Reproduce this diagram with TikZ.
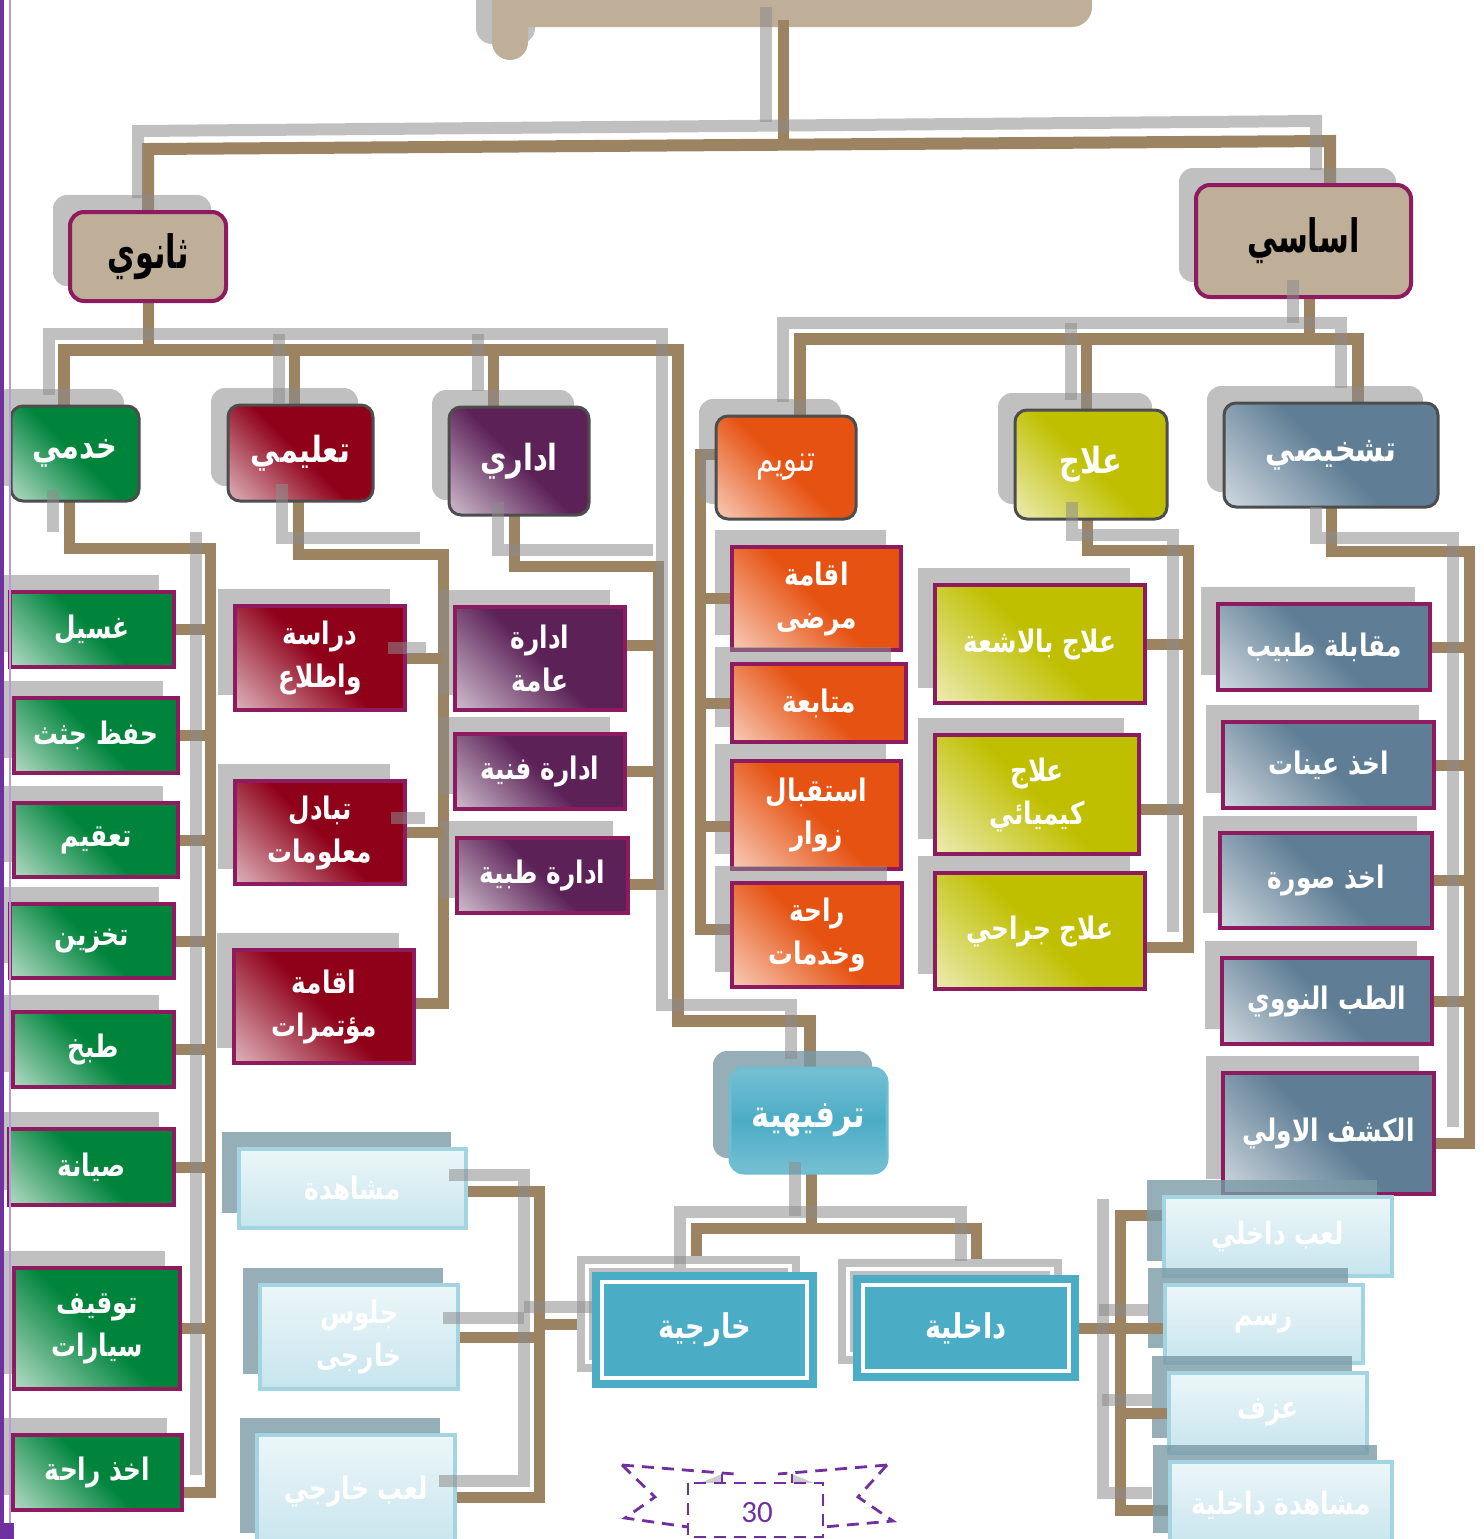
\documentclass[tikz,border=0pt]{standalone}
\usepackage{fontspec}
\TeXXeTstate=1
\newfontfamily\arabicfont[Script=Arabic, FakeStretch=0.8]{DejaVu Sans}
\newfontfamily\arabictitle[Script=Arabic, FakeStretch=0.66]{DejaVu Sans}
\newfontfamily\numfont{Carlito}

% palette
\definecolor{tanC}{HTML}{BFAE98}
\definecolor{magC}{HTML}{8E1A5F}
\definecolor{brownC}{HTML}{9C8362}
\definecolor{edgeC}{HTML}{4D4D4D}
\definecolor{gMn}{HTML}{00843C}
\definecolor{rMn}{HTML}{8F0019}
\definecolor{pMn}{HTML}{5C2258}
\definecolor{oMn}{HTML}{E65212}
\definecolor{yMn}{HTML}{BFBF00}
\definecolor{sMn}{HTML}{5F7E95}
\definecolor{tealC}{HTML}{4BACC6}
\definecolor{tealLt}{HTML}{A2D3E1}
\definecolor{paleC}{HTML}{B4DCE7}
\definecolor{paleEdge}{HTML}{A3D4E2}
\definecolor{pshC}{HTML}{7A9AA6}
\definecolor{pgC}{HTML}{7030A0}
\definecolor{lavC}{HTML}{B89AD8}

% diagonal gradients: pale lower-left corner, full colour towards upper-right
\pgfdeclarehorizontalshading{shG}{100bp}{color(0bp)=(gMn!6!white); color(20bp)=(gMn!40!white); color(50bp)=(gMn); color(100bp)=(gMn)}
\pgfdeclarehorizontalshading{shR}{100bp}{color(0bp)=(rMn!6!white); color(20bp)=(rMn!40!white); color(50bp)=(rMn); color(100bp)=(rMn)}
\pgfdeclarehorizontalshading{shP}{100bp}{color(0bp)=(pMn!6!white); color(20bp)=(pMn!40!white); color(50bp)=(pMn); color(100bp)=(pMn)}
\pgfdeclarehorizontalshading{shO}{100bp}{color(0bp)=(oMn!6!white); color(20bp)=(oMn!40!white); color(50bp)=(oMn); color(100bp)=(oMn)}
\pgfdeclarehorizontalshading{shY}{100bp}{color(0bp)=(yMn!6!white); color(20bp)=(yMn!40!white); color(50bp)=(yMn); color(100bp)=(yMn)}
\pgfdeclarehorizontalshading{shS}{100bp}{color(0bp)=(sMn!6!white); color(20bp)=(sMn!40!white); color(50bp)=(sMn); color(100bp)=(sMn)}
\pgfdeclareverticalshading{shT}{100bp}{color(0bp)=(tealLt); color(50bp)=(tealC); color(100bp)=(tealLt)}
\pgfdeclareverticalshading{shW}{100bp}{color(0bp)=(paleC); color(100bp)=(white)}

\newcommand\AR[1]{\beginR#1\endR}
% box with its offset shadow: [shadow style]{node style}{name}{x1}{y1}{x2}{y2}{text}
\newcommand\mkbox[8][shd]{%
  \fill[#1] ({#4-17},{#5-17}) rectangle ({#6-15},{#7-15});
  \node[#2, minimum width={(#6-#4)*0.5pt}, minimum height={(#7-#5)*0.5pt}] (#3) at ({(#4+#6)/2},{(#5+#7)/2}) {#8};}

\tikzset{
  shd/.style={fill=black!45, fill opacity=0.55},
  shdr/.style={shd, rounded corners=7pt},
  shdp/.style={fill=pshC, fill opacity=0.8},
  shdpr/.style={shdp, rounded corners=7pt},
  brw/.style={draw=brownC, line width=5.5pt},
  gry/.style={draw=black!45, draw opacity=0.55, line width=6pt},
  lvlone/.style={draw=magC, line width=2pt, fill=tanC, rounded corners=7pt, inner sep=0pt,
    text=black, font=\arabictitle\bfseries\fontsize{23}{26}\selectfont},
  lvltwo/.style={draw=edgeC, line width=1.5pt, rounded corners=6pt, shade, shading angle=45,
    inner sep=0pt, text=white, font=\arabicfont\bfseries\fontsize{18}{20}\selectfont},
  kid/.style={draw=magC, line width=2pt, shade, shading angle=45, inner sep=0pt, align=center,
    text=white, font=\arabicfont\bfseries\fontsize{15.5}{21.5}\selectfont},
  tealbox/.style={fill=tealC, draw=tealC, line width=1pt, inner sep=0pt, text=white,
    font=\arabicfont\bfseries\fontsize{17}{20}\selectfont},
  palebox/.style={draw=paleEdge, line width=1.8pt, shade, shading=shW, inner sep=0pt, align=center,
    text=white, font=\arabicfont\bfseries\fontsize{15.5}{21.5}\selectfont},
  pgdash/.style={draw=pgC, line width=1.4pt, dash pattern=on 6pt off 4pt},
}

\begin{document}
\begin{tikzpicture}[x=0.5pt,y=-0.5pt]
\useasboundingbox (0,0) rectangle (1484,1539);
\clip (0,0) rectangle (1484,1539);

% ---- title banner (cut by the page top)
\fill[shd, rounded corners=8pt] (476,-40) rectangle (535,44);
\fill[tanC, rounded corners=10pt] (505,-40) rectangle (1092,27);
\fill[tanC, rounded corners=9pt] (492,-40) rectangle (528,60);
\coordinate (root) at (783,27);

% ---- brown connectors
\draw[brw] (783,20) -- (783,146);
\draw[brw, line width=6pt] (148,212) -- (148,149) -- (1330,141) -- (1330,186);
% secondary branch bus
\draw[brw] (148,301) -- (148,350);
\draw[brw, line width=6pt] (64,406) -- (64,350) -- (678,350) -- (678,1021) -- (810,1021) -- (810,1068);
\draw[brw] (294,350) -- (294,405);
\draw[brw] (493,350) -- (493,407);
% basic branch bus
\draw[brw] (1309,297) -- (1309,339);
\draw[brw, line width=6pt] (800,416) -- (800,339) -- (1358,339) -- (1358,403);
\draw[brw] (1086,339) -- (1086,410);
% column buses
\coordinate (kb) at (210,548);
\draw[brw] (69,501) -- (69,548) -- (210,548) -- (210,1492) -- (182,1492);
\coordinate (tb) at (443,554);
\draw[brw] (298,501) -- (298,554) -- (443,554) -- (443,1003) -- (414,1003);
\coordinate (ib) at (658,566);
\draw[brw] (514,515) -- (514,566) -- (658,566) -- (658,884) -- (628,884);
\coordinate (nb) at (700,454);
\draw[brw] (717,454) -- (700,454) -- (700,929) -- (732,929);
\coordinate (lb) at (1188,550);
\draw[brw] (1087,519) -- (1087,550) -- (1188,550) -- (1188,947) -- (1140,947);
\coordinate (sb) at (1469,551);
\draw[brw] (1331,507) -- (1331,551) -- (1469,551) -- (1469,1143) -- (1434,1143);
\draw[brw] (811,1173) -- (811,1228);
\draw[brw] (696,1274) -- (696,1228) -- (976,1228) -- (976,1277);
\coordinate (xb) at (539,1191);
\draw[brw] (466,1191) -- (539,1191) -- (539,1497) -- (455,1497);
\draw[brw] (539,1324) -- (594,1324);
\coordinate (db) at (1120,1215);
\draw[brw] (1164,1215) -- (1120,1215) -- (1120,1510) -- (1170,1510);

% ---- level one
\mkbox[shdr]{lvlone}{thanawi}{70}{212}{226}{301}{\AR{ثانوي}}
\mkbox[shdr]{lvlone}{asasi}{1196}{185}{1411}{297}{\AR{اساسي}}

% ---- level two
\mkbox[shdr]{lvltwo, shading=shG}{khidmi}{11}{406}{139}{501}{\AR{خدمي}}
\mkbox[shdr]{lvltwo, shading=shR}{taalimi}{228}{405}{373}{501}{\AR{تعليمي}}
\mkbox[shdr]{lvltwo, shading=shP}{idari}{449}{407}{589}{515}{\AR{اداري}}
\mkbox[shdr]{lvltwo, shading=shO, font=\arabicfont\fontsize{18}{20}\selectfont}{tanwim}{716}{416}{856}{519}{\AR{تنويم}}
\mkbox[shdr]{lvltwo, shading=shY}{ilaj}{1015}{410}{1167}{519}{\AR{علاج}}
\mkbox[shdr]{lvltwo, shading=shS}{tashkhisi}{1224}{403}{1438}{507}{\AR{تشخيصي}}

% ---- service column
\mkbox{kid, shading=shG}{ghasil}{10}{592}{174}{667}{\AR{غسيل}}
\mkbox{kid, shading=shG}{hifz}{14}{698}{178}{773}{\AR{حفظ جثث}}
\mkbox{kid, shading=shG}{taqim}{14}{803}{178}{877}{\AR{تعقيم}}
\mkbox{kid, shading=shG}{takhzin}{10}{904}{174}{978}{\AR{تخزين}}
\mkbox{kid, shading=shG}{tabkh}{13}{1012}{174}{1087}{\AR{طبخ}}
\mkbox{kid, shading=shG}{siyana}{9}{1129}{174}{1205}{\AR{صيانة}}
\mkbox{kid, shading=shG}{tawqif}{14}{1268}{180}{1389}{\AR{توقيف}\\\AR{سيارات}}
\mkbox{kid, shading=shG}{raha}{13}{1435}{182}{1510}{\AR{اخذ راحة}}

% ---- teaching column
\mkbox{kid, shading=shR}{dirasa}{235}{606}{405}{710}{\AR{دراسة}\\\AR{واطلاع}}
\mkbox{kid, shading=shR}{tabadul}{235}{781}{405}{884}{\AR{تبادل}\\\AR{معلومات}}
\mkbox{kid, shading=shR}{muatamarat}{234}{950}{414}{1063}{\AR{اقامة}\\\AR{مؤتمرات}}

% ---- administration column
\mkbox{kid, shading=shP}{idAmma}{455}{607}{625}{710}{\AR{ادارة}\\\AR{عامة}}
\mkbox{kid, shading=shP}{idFanniya}{455}{734}{625}{809}{\AR{ادارة فنية}}
\mkbox{kid, shading=shP}{idTibbiya}{457}{838}{628}{913}{\AR{ادارة طبية}}

% ---- inpatient column
\mkbox{kid, shading=shO}{iqamaMarda}{732}{547}{901}{650}{\AR{اقامة}\\\AR{مرضى}}
\mkbox{kid, shading=shO}{mutabaa}{732}{664}{906}{742}{\AR{متابعة}}
\mkbox{kid, shading=shO}{istiqbal}{732}{761}{901}{869}{\AR{استقبال}\\\AR{زوار}}
\mkbox{kid, shading=shO}{rahaKh}{732}{883}{902}{987}{\AR{راحة}\\\AR{وخدمات}}

% ---- treatment column
\mkbox{kid, shading=shY}{ashiaa}{935}{585}{1145}{703}{\AR{علاج بالاشعة}}
\mkbox{kid, shading=shY}{kimiyai}{935}{735}{1139}{854}{\AR{علاج}\\\AR{كيميائي}}
\mkbox{kid, shading=shY}{jirahi}{935}{873}{1145}{989}{\AR{علاج جراحي}}

% ---- diagnosis column
\mkbox{kid, shading=shS}{muqabala}{1218}{604}{1430}{690}{\AR{مقابلة طبيب}}
\mkbox{kid, shading=shS}{ayyinat}{1223}{722}{1434}{808}{\AR{اخذ عينات}}
\mkbox{kid, shading=shS}{sura}{1220}{833}{1432}{928}{\AR{اخذ صورة}}
\mkbox{kid, shading=shS}{nawawi}{1222}{958}{1432}{1044}{\AR{الطب النووي}}
\mkbox{kid, shading=shS}{kashf}{1223}{1073}{1434}{1194}{\AR{الكشف الاولي}}

% ---- recreation
\mkbox[shdpr]{draw=tealC!80!white, line width=1.5pt, rounded corners=7pt, shade, shading=shT, inner sep=0pt,
  text=white, font=\arabicfont\bfseries\fontsize{19}{21}\selectfont}{tarfihiya}{730}{1068}{887}{1173}{\AR{ترفيهية}}

\fill[black!25] (577,1256) rectangle (800,1372);
\draw[white, line width=2pt] (587,1266) rectangle (790,1362);
\node[tealbox, minimum width=111.5pt, minimum height=57pt] (kharijiya) at (704.5,1330) {\AR{خارجية}};
\draw[white, line width=2pt] ([shift={(5pt,-5pt)}]kharijiya.north west) rectangle ([shift={(-5pt,5pt)}]kharijiya.south east);

\fill[black!25] (838,1259) rectangle (1062,1364);
\draw[white, line width=2pt] (848,1269) rectangle (1052,1354);
\node[tealbox, minimum width=112pt, minimum height=52pt] (dakhiliya) at (966,1328) {\AR{داخلية}};
\draw[white, line width=2pt] ([shift={(5pt,-5pt)}]dakhiliya.north west) rectangle ([shift={(-5pt,5pt)}]dakhiliya.south east);

\mkbox[shdp]{palebox}{mushahada}{239}{1149}{466}{1228}{\AR{مشاهدة}}
\mkbox[shdp]{palebox}{julus}{260}{1285}{458}{1389}{\AR{جلوس}\\\AR{خارجى}}
\mkbox[shdp]{palebox}{laab}{257}{1435}{455}{1548}{\AR{لعب خارجي}}
\mkbox[shdp]{palebox}{laabD}{1164}{1197}{1392}{1276}{\AR{لعب داخلي}}
\mkbox[shdp]{palebox}{rasm}{1165}{1285}{1363}{1363}{\AR{رسم}}
\mkbox[shdp]{palebox}{azf}{1169}{1373}{1367}{1453}{\AR{عزف}}
\mkbox[shdp]{palebox}{mushD}{1170}{1462}{1392}{1548}{\AR{مشاهدة داخلية}}

% ---- brown branch ticks into the boxes
\foreach \n in {ghasil,hifz,taqim,takhzin,tabkh,siyana,tawqif}
  \draw[brw] (\n.east) -- (\n.east -| kb);
\foreach \n in {dirasa,tabadul}
  \draw[brw] (\n.east) -- (\n.east -| tb);
\draw[brw] ([yshift=6.5pt]idAmma.east) -- ([yshift=6.5pt]idAmma.east -| ib);
\draw[brw] (idFanniya.east) -- (idFanniya.east -| ib);
\foreach \n in {iqamaMarda,mutabaa}
  \draw[brw] (\n.west) -- (\n.west -| nb);
\draw[brw] ([yshift=-5.5pt]istiqbal.west) -- ([yshift=-5.5pt]istiqbal.west -| nb);
\draw[brw] (ashiaa.east) -- (ashiaa.east -| lb);
\draw[brw] ([yshift=-7.5pt]kimiyai.east) -- ([yshift=-7.5pt]kimiyai.east -| lb);
\foreach \n in {muqabala,ayyinat,sura,nawawi}
  \draw[brw] (\n.east) -- (\n.east -| sb);
\draw[brw] (julus.east) -- (julus.east -| xb);
\draw[brw] (dakhiliya.east) -- (dakhiliya.east -| rasm.west);
\draw[brw] (azf.west) -- (azf.west -| db);

% ---- grey offset connectors (translucent, on top)
\draw[gry] (766,7) -- (766,122);
\draw[gry] (138,198) -- (138,131) -- (1316,121) -- (1316,170);
\draw[gry] (49,395) -- (49,334) -- (662,334) -- (662,1005) -- (791,1005) -- (791,1059);
\draw[gry] (279,334) -- (279,403);
\draw[gry] (478,334) -- (478,391);
\draw[gry] (1293,280) -- (1293,323);
\draw[gry] (783,402) -- (783,323) -- (1341,323) -- (1341,388);
\draw[gry] (1071,323) -- (1071,400);
\draw[gry] (53,490) -- (53,532);
\draw[gry] (196,532) -- (196,1475);
\draw[gry] (282,484) -- (282,538) -- (420,538);
\draw[gry] (388,648) -- (426,648);
\draw[gry] (391,818) -- (425,818);
\draw[gry] (498,502) -- (498,550) -- (653,550);
\draw[gry] (1072,502) -- (1072,535) -- (1173,535) -- (1173,932);
\draw[gry] (1316,507) -- (1316,538) -- (1453,538) -- (1453,1127);
\draw[gry] (795,1162) -- (795,1216);
\draw[gry] (680,1268) -- (680,1212) -- (961,1212) -- (961,1261);
\draw[gry] (449,1175) -- (524,1175) -- (524,1481) -- (439,1481);
\draw[gry] (443,1318) -- (524,1318);
\draw[gry] (524,1307) -- (592,1307);
\draw[gry] (1103,1199) -- (1103,1493) -- (1152,1493);
\draw[gry] (1099,1310) -- (1149,1310);
\draw[gry] (1102,1400) -- (1152,1400);

% ---- page number ribbon
\fill[black!20] (700,1483) -- (722,1474) -- (722,1483) -- cycle;
\fill[black!20] (792,1474) -- (792,1483) -- (814,1483) -- cycle;
\draw[pgdash] (622,1465) -- (735,1474);
\draw[pgdash] (887,1465) -- (778,1474);
\draw[pgdash] (722,1474) -- (722,1483);
\draw[pgdash] (792,1474) -- (792,1483);
\draw[pgdash] (622,1465) -- (655,1497) -- (625,1518) -- (688,1527);
\draw[pgdash] (887,1465) -- (858,1497) -- (893,1521) -- (823,1527);
\draw[pgdash] (688,1483) rectangle (823,1537);
\node[font=\numfont\fontsize{15.5}{18}\selectfont, text=pgC, inner sep=0pt] (pagenum) at (757,1513) {30};

% ---- page edge rule
\fill[pgC] (0,0) rectangle (4,1539);
\draw[lavC, line width=0.6pt] (10,0) -- (10,1539);
\fill[pgC] (0,1523) rectangle (14,1539);
\end{tikzpicture}
\end{document}
